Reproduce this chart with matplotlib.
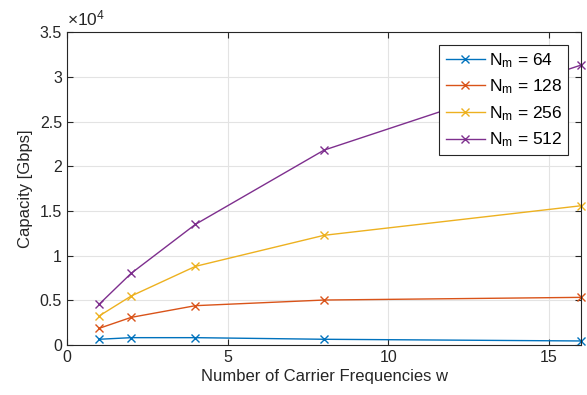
import numpy as np
import matplotlib
matplotlib.use('Agg')
from matplotlib import pyplot as plt
from matplotlib.ticker import FuncFormatter

plt.rcParams['font.family'] = ['Liberation Sans', 'DejaVu Sans']
plt.rcParams['mathtext.fontset'] = 'custom'
plt.rcParams['mathtext.rm'] = 'Liberation Sans'
plt.rcParams['mathtext.it'] = 'Liberation Sans'

# numero de frecuencias portadoras
w = [1, 2, 4, 8, 16]
nm = [64, 128, 256, 512]
cap64 = [640, 820, 820, 640, 450]
cap128 = [1860, 3090, 4400, 5030, 5330]
cap256 = [3240, 5480, 8800, 12270, 15580]
cap512 = [4550, 8020, 13500, 21800, 31320]
colores = ['#0072BD', '#D95319', '#EDB120', '#7E2F8E']

fig = plt.figure(figsize=(5.87, 3.95), dpi=100)
ax = fig.add_axes([0.114, 0.1266, 0.876, 0.792])

for c, n, col in zip([cap64, cap128, cap256, cap512], nm, colores):
    ax.plot(w, c, '-x', color=col, lw=1.0, ms=6, mew=1.0,
            label=r'N$_\mathregular{m}$ = %d' % n, clip_on=False)

ax.set_xlim(0, 16)
ax.set_ylim(0, 35000)
ax.set_xticks([0, 5, 10, 15])
ax.set_yticks(np.arange(0, 35001, 5000))
ax.yaxis.set_major_formatter(FuncFormatter(lambda v, p: '%g' % (v / 1e4)))
ax.text(0, 1.012, r'$\times$10$^4$', transform=ax.transAxes, fontsize=12.5,
        color='#262626', ha='left', va='bottom')

ax.grid(True, color='#e3e3e3', lw=0.8)
ax.set_axisbelow(True)
ax.tick_params(direction='in', top=True, right=True, labelsize=11.5,
               colors='#262626', length=4, width=0.8)
for s in ax.spines.values():
    s.set_color('#262626')
    s.set_linewidth(0.8)

ax.set_xlabel('Number of Carrier Frequencies w', fontsize=12, color='#262626', labelpad=3)
ax.set_ylabel('Capacity [Gbps]', fontsize=12, color='#262626', labelpad=5)

leg = ax.legend(loc='upper right', bbox_to_anchor=(0.975, 0.959), fontsize=12.5,
                fancybox=False, framealpha=1, edgecolor='#262626',
                handlelength=2.3, handletextpad=0.2, borderpad=0.35,
                labelspacing=0.45, borderaxespad=0)
leg.get_frame().set_linewidth(0.8)

plt.savefig('out.png', dpi=100)
